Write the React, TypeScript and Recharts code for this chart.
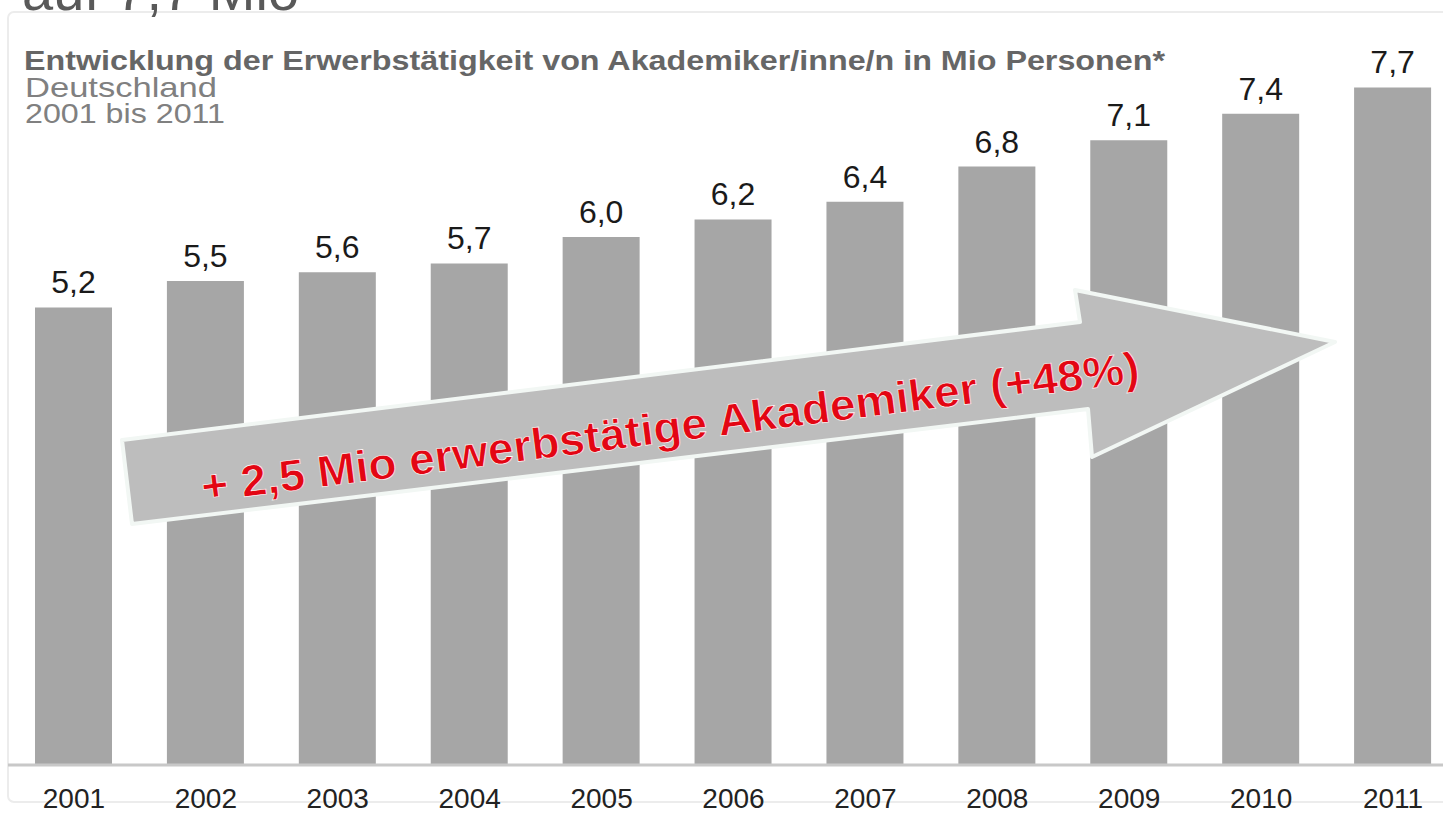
import React from 'react';
import { BarChart, Bar, XAxis, YAxis, LabelList } from 'recharts';

const years = ['2001', '2002', '2003', '2004', '2005', '2006', '2007', '2008', '2009', '2010', '2011'];
const employed = [5.2, 5.5, 5.6, 5.7, 6.0, 6.2, 6.4, 6.8, 7.1, 7.4, 7.7];
const yDomain: [number, number] = [0, 8];

const headline = 'auf 7,7 Mio';
const title = 'Entwicklung der Erwerbstätigkeit von Akademiker/inne/n  in Mio Personen*';
const subtitle = ['Deutschland', '2001 bis 2011'];
const arrowText = '+ 2,5 Mio erwerbstätige Akademiker (+48%)';

const data = years.map((y, i) => ({ year: y, value: employed[i] }));

const FONT = '"Liberation Sans", Arial, sans-serif';

const YearTick = (props: any) => {
  const { x, y, payload } = props;
  return (
    <text x={x} y={y + 35} textAnchor="middle" fontFamily={FONT} fontSize={28} fill="#222">
      {payload.value}
    </text>
  );
};

export default function App() {
  return (
    <div style={{ position: 'absolute', left: 0, top: 0, width: 1443, height: 816, overflow: 'hidden', background: '#fff' }}>
      <svg width={1443} height={816} style={{ position: 'absolute', left: 0, top: 0 }}>
        <rect x={8} y={12} width={1445} height={790} rx={6} fill="#fff" stroke="#ececec" strokeWidth={2} />
        <text x={22} y={10} fontFamily={FONT} fontSize={56} fill="#595959">{headline}</text>
        <text x={24} y={70} fontFamily={FONT} fontSize={27} fontWeight="bold" fill="#666" textLength={1141} lengthAdjust="spacingAndGlyphs">{title}</text>
        <text x={25} y={97} fontFamily={FONT} fontSize={28} fill="#808080" textLength={192} lengthAdjust="spacingAndGlyphs">{subtitle[0]}</text>
        <text x={25} y={123} fontFamily={FONT} fontSize={28} fill="#808080" textLength={200} lengthAdjust="spacingAndGlyphs">{subtitle[1]}</text>
      </svg>
      <div style={{ position: 'absolute', left: 0, top: 0 }}>
        <BarChart width={1470} height={816} data={data} margin={{ top: 61, right: 11, left: 8, bottom: 0 }}>
          <YAxis hide domain={yDomain} />
          <XAxis
            dataKey="year"
            height={51}
            tickLine={false}
            axisLine={{ stroke: '#c8c8c8', strokeWidth: 3 }}
            tick={<YearTick />}
            interval={0}
          />
          <Bar dataKey="value" fill="#a6a6a6" barSize={77} isAnimationActive={false}>
            <LabelList
              dataKey="value"
              position="top"
              offset={14}
              formatter={(v: any) => Number(v).toFixed(1).replace('.', ',')}
              style={{ fontFamily: FONT, fontSize: 32, fill: '#1a1a1a' }}
            />
          </Bar>
        </BarChart>
      </div>
      <svg width={1443} height={816} style={{ position: 'absolute', left: 0, top: 0, pointerEvents: 'none' }}>
        <polygon
          points="122,440 1080,322 1075,290 1335,342 1092,457 1088,409 132,524"
          fill="#bdbdbd"
          stroke="#f2f7f4"
          strokeWidth={4}
          strokeLinejoin="round"
        />
        <text
          x={672}
          y={442}
          textAnchor="middle"
          transform="rotate(-7.3 672 442)"
          fontFamily={FONT}
          fontSize={44}
          fontWeight="bold"
          fill="#e30613"
          stroke="#fff"
          strokeWidth={0.6}
          textLength={945}
          lengthAdjust="spacingAndGlyphs"
        >
          {arrowText}
        </text>
      </svg>
    </div>
  );
}
